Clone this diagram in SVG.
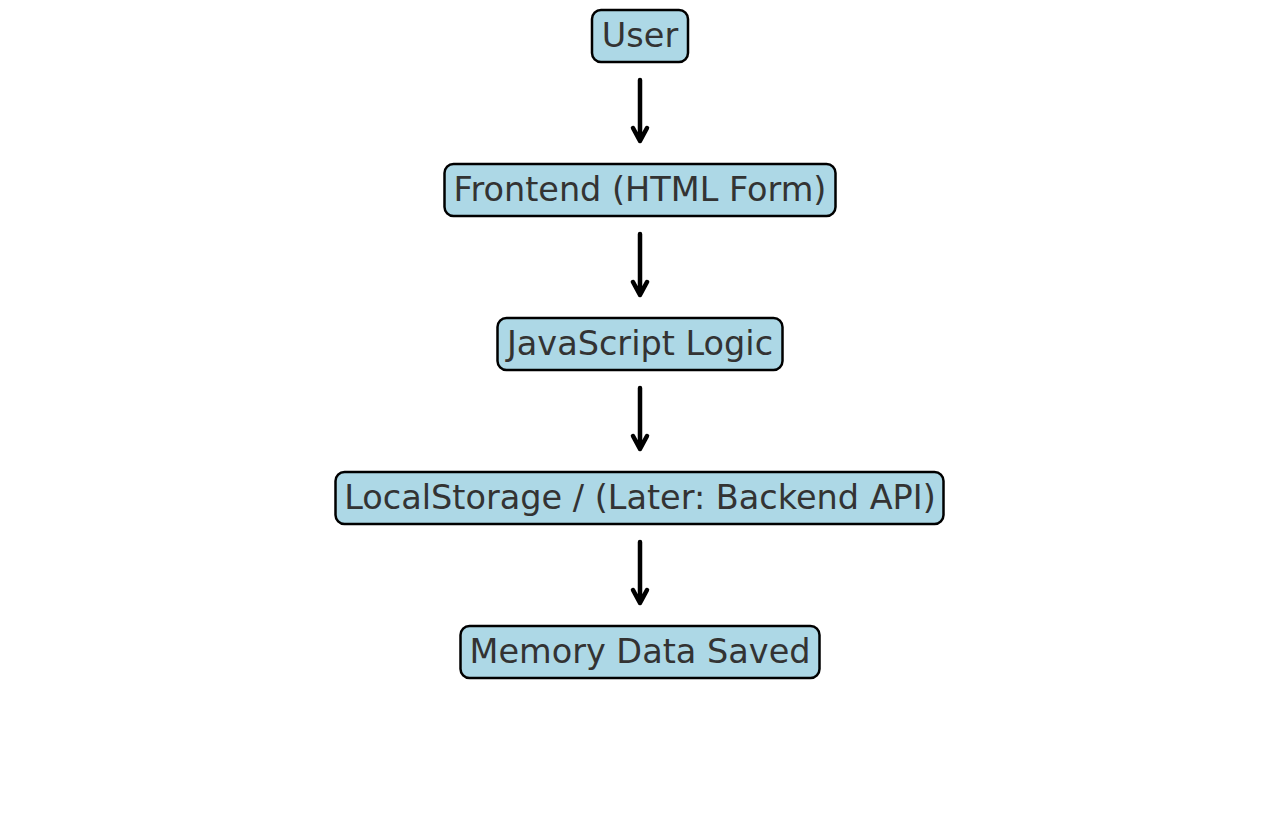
<svg xmlns="http://www.w3.org/2000/svg" width="1280" height="826" viewBox="0 0 1280 826">
<style>
.box{fill:#ADD8E6;stroke:#000;stroke-width:2.5}
.lbl{font-family:"DejaVu Sans",sans-serif;font-size:33.5px;fill:#333;text-anchor:middle}
.edge{stroke:#000;stroke-width:4.5;fill:none;stroke-linecap:round;stroke-linejoin:round}
</style>
<rect width="1280" height="826" fill="#fff"/>
<g id="n-user"><rect class="box" x="592" y="10" width="96" height="52" rx="9"/><text class="lbl" x="640" y="47">User</text></g>
<g id="n-frontend"><rect class="box" x="444.5" y="164" width="391" height="52" rx="9"/><text class="lbl" x="640" y="201">Frontend (HTML Form)</text></g>
<g id="n-js"><rect class="box" x="497.5" y="318" width="285" height="52" rx="9"/><text class="lbl" x="640" y="355">JavaScript Logic</text></g>
<g id="n-storage"><rect class="box" x="335.5" y="472" width="608" height="52" rx="9"/><text class="lbl" x="640" y="509">LocalStorage / (Later: Backend API)</text></g>
<g id="n-memory"><rect class="box" x="460.5" y="626" width="359" height="52" rx="9"/><text class="lbl" x="640" y="663">Memory Data Saved</text></g>
<g id="connectors">
<path class="edge" d="M640 80V141M633 128L640 141L647 128"/>
<path class="edge" d="M640 234V295M633 282L640 295L647 282"/>
<path class="edge" d="M640 388V449M633 436L640 449L647 436"/>
<path class="edge" d="M640 542V603M633 590L640 603L647 590"/>
</g>
</svg>
